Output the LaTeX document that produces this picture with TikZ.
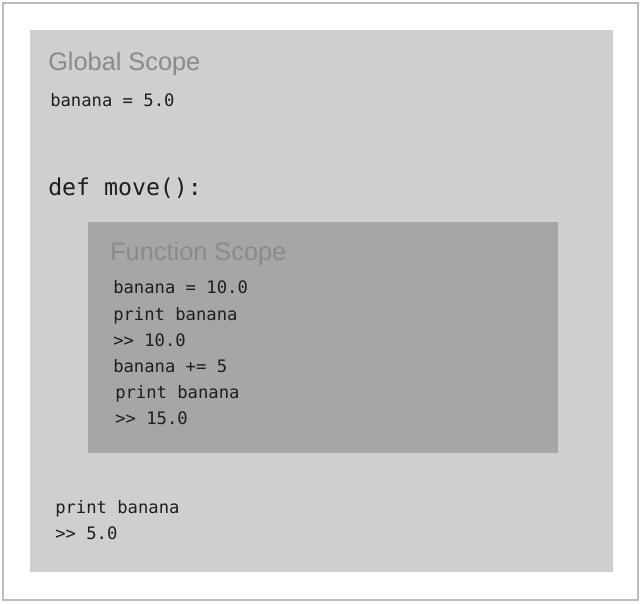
\documentclass[tikz,border=0pt]{standalone}
\usepackage{fontspec}
\setsansfont{Liberation Sans}
\setmonofont{DejaVu Sans Mono}
\definecolor{outerbg}{HTML}{CFCFCF}
\definecolor{innerbg}{HTML}{A6A6A6}
\definecolor{framec}{HTML}{BDBDBD}
\definecolor{titlec}{HTML}{8A8A8A}
\definecolor{codec}{HTML}{1E1E1E}
\tikzset{
  title/.style={anchor=base west, inner sep=0pt, text=titlec, font=\sffamily\fontsize{19}{19}\selectfont},
  code/.style={anchor=base west, inner sep=0pt, text=codec, font=\ttfamily\fontsize{12.9}{13}\selectfont},
  bigcode/.style={anchor=base west, inner sep=0pt, text=codec, font=\ttfamily\fontsize{17.4}{18}\selectfont},
}
\begin{document}
\begin{tikzpicture}[x=0.75pt,y=-0.75pt]
\useasboundingbox (0,0) rectangle (642,603);
\fill[white] (0,0) rectangle (642,603);
\draw[framec, line width=1pt] (3,3) rectangle (638,600);
\fill[outerbg] (30,30) rectangle (613,572);
\fill[innerbg] (88,222) rectangle (558,453);
\node[title] (gs) at (48,70) {Global Scope};
\node[code] (g1) at (50,106) {banana = 5.0};
\node[bigcode] (def) at (48,195) {def move():};
\node[title] (fs) at (110,260) {Function Scope};
\node[code] (f1) at (113,293) {banana = 10.0};
\node[code] (f2) at (113,320) {print banana};
\node[code] (f3) at (113,346) {>> 10.0};
\node[code] (f4) at (113,372) {banana += 5};
\node[code] (f5) at (115,398) {print banana};
\node[code] (f6) at (115,424) {>> 15.0};
\node[code] (b1) at (55,513) {print banana};
\node[code] (b2) at (55,539) {>> 5.0};
\end{tikzpicture}
\end{document}
